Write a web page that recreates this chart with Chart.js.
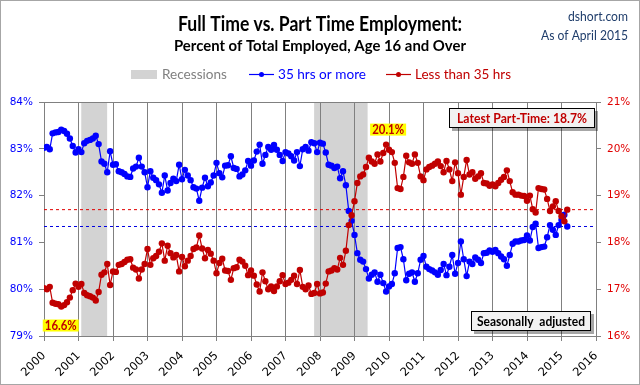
<!DOCTYPE html>
<html>
<head>
<meta charset="utf-8">
<title>Full Time vs. Part Time Employment</title>
<script src="https://cdn.jsdelivr.net/npm/chart.js@4.4.0/dist/chart.umd.min.js"></script>
<style>
    html, body { margin: 0; padding: 0; background: #fff; }
    #chartWrap { width: 640px; height: 385px; }
</style>
</head>
<body>
<div id="chartWrap"><canvas id="employmentChart" width="640" height="385"></canvas></div>
<script>
// Monthly readings, Jan 2000 - Mar 2015 (percent of total employed)
const startYear = 2000;

// 35 hrs or more (left axis)
const fullTime = [
    83.02, 83.04, 82.99, 83.33, 83.35, 83.36, 83.41, 83.38, 83.32, 83.22, 83.06, 82.92,
    82.99, 82.93, 83.12, 83.17, 83.19, 83.22, 83.28, 83.10, 82.73, 82.68, 82.50, 82.95,
    82.66, 82.67, 82.52, 82.50, 82.46, 82.41, 82.40, 82.58, 82.62, 82.81, 82.62, 82.50,
    82.18, 82.52, 82.38, 82.33, 82.24, 82.06, 82.43, 82.11, 82.27, 82.36, 82.31, 82.66,
    82.35, 82.55, 82.43, 82.33, 82.18, 82.15, 81.89, 82.17, 82.38, 82.20, 82.28, 82.43,
    82.70, 82.48, 82.39, 82.64, 82.65, 82.84, 82.59, 82.57, 82.41, 82.45, 82.54, 82.74,
    82.64, 82.75, 82.94, 83.09, 82.68, 82.87, 83.04, 82.98, 83.08, 82.98, 82.87, 82.74,
    82.93, 82.90, 82.84, 82.75, 82.93, 82.63, 82.99, 83.04, 82.96, 83.14, 83.12, 82.93,
    83.13, 83.11, 82.92, 82.66, 82.64, 82.59, 82.62, 82.37, 82.52, 82.22, 81.67, 81.46,
    81.16, 80.77, 80.63, 80.59, 80.43, 80.23, 80.31, 80.36, 80.16, 80.31, 80.13, 79.95,
    80.06, 80.11, 80.34, 80.88, 80.90, 80.64, 80.19, 80.33, 80.36, 80.16, 80.34, 80.63,
    80.71, 80.48, 80.43, 80.40, 80.36, 80.31, 80.41, 80.54, 80.30, 80.48, 80.73, 80.33,
    80.56, 81.02, 80.64, 80.28, 80.59, 80.54, 80.68, 80.63, 80.56, 80.77, 80.78, 80.83,
    80.80, 80.84, 80.77, 80.70, 80.64, 80.50, 80.73, 80.97, 81.02, 81.02, 81.04, 81.05,
    81.15, 81.04, 81.33, 81.40, 80.88, 80.90, 80.91, 81.11, 81.37, 81.27, 81.16, 81.37,
    81.48, 81.59, 81.34
];

// Less than 35 hrs (right axis)
const partTime = [
    17.02, 17.00, 17.05, 16.71, 16.69, 16.68, 16.63, 16.66, 16.72, 16.82, 16.98, 17.12,
    17.05, 17.11, 16.92, 16.87, 16.85, 16.82, 16.76, 16.94, 17.31, 17.36, 17.54, 17.09,
    17.38, 17.37, 17.52, 17.54, 17.58, 17.63, 17.64, 17.46, 17.42, 17.23, 17.42, 17.54,
    17.86, 17.52, 17.66, 17.71, 17.80, 17.98, 17.61, 17.93, 17.77, 17.68, 17.73, 17.38,
    17.69, 17.49, 17.61, 17.71, 17.86, 17.89, 18.15, 17.87, 17.66, 17.84, 17.76, 17.61,
    17.34, 17.56, 17.65, 17.40, 17.39, 17.20, 17.45, 17.47, 17.63, 17.59, 17.50, 17.30,
    17.40, 17.29, 17.10, 16.95, 17.36, 17.17, 17.00, 17.06, 16.96, 17.06, 17.17, 17.30,
    17.11, 17.14, 17.20, 17.29, 17.11, 17.41, 17.05, 17.00, 17.08, 16.90, 16.92, 17.11,
    16.91, 16.93, 17.12, 17.38, 17.40, 17.45, 17.42, 17.67, 17.52, 17.82, 18.37, 18.58,
    18.88, 19.27, 19.41, 19.45, 19.61, 19.81, 19.73, 19.68, 19.88, 19.73, 19.91, 20.09,
    19.98, 19.93, 19.70, 19.16, 19.14, 19.40, 19.85, 19.71, 19.68, 19.88, 19.70, 19.41,
    19.33, 19.56, 19.61, 19.64, 19.68, 19.73, 19.63, 19.50, 19.74, 19.56, 19.31, 19.71,
    19.48, 19.02, 19.40, 19.76, 19.45, 19.50, 19.36, 19.41, 19.48, 19.27, 19.26, 19.21,
    19.24, 19.20, 19.27, 19.34, 19.40, 19.54, 19.31, 19.07, 19.02, 19.02, 19.00, 18.99,
    18.89, 19.00, 18.71, 18.64, 19.16, 19.14, 19.13, 18.93, 18.67, 18.77, 18.88, 18.67,
    18.56, 18.45, 18.70
];

// Recession bands (fractional years)
const recessionStart = [2001.08, 2007.83];
const recessionEnd = [2001.83, 2009.38];

// Axis ticks
const yearTicks = [2000, 2001, 2002, 2003, 2004, 2005, 2006, 2007, 2008,
                   2009, 2010, 2011, 2012, 2013, 2014, 2015, 2016];
const leftTicks = [79, 80, 81, 82, 83, 84];
const rightTicks = [16, 17, 18, 19, 20, 21];

const BLUE = '#0000ff';
const RED = '#c00000';
const GRID = '#808080';
const LABEL_FONT = 'Lato, "Open Sans", sans-serif';

class EmploymentChart {
    constructor(canvasId) {
        this.canvas = document.getElementById(canvasId);
        this.chart = null;
    }

    // Turn a monthly series into {x, y} points on a year scale
    toPoints(values) {
        return values.map((v, i) => ({ x: startYear + i / 12, y: v }));
    }

    // Flat dashed line at the latest value of a series
    latestLine(values) {
        const last = values[values.length - 1];
        return [{ x: yearTicks[0], y: last }, { x: yearTicks[yearTicks.length - 1], y: last }];
    }

    text(ctx, str, x, y, font, color, align, maxWidth) {
        ctx.font = font;
        ctx.fillStyle = color;
        ctx.textAlign = align;
        ctx.textBaseline = 'middle';
        if (maxWidth) {
            ctx.fillText(str, x, y, maxWidth);
        } else {
            ctx.fillText(str, x, y);
        }
    }

    // Boxed note with a drop shadow
    noteBox(ctx, str, left, top, width, height, color, textWidth) {
        ctx.fillStyle = 'rgba(0,0,0,0.35)';
        ctx.fillRect(left + 3, top + 3, width, height);
        ctx.fillStyle = '#f2f2f2';
        ctx.fillRect(left, top, width, height);
        ctx.strokeStyle = '#000';
        ctx.lineWidth = 1;
        ctx.strokeRect(left + 0.5, top + 0.5, width - 1, height - 1);
        this.text(ctx, str, left + width / 2, top + height / 2 + 0.5,
            'bold 13px ' + LABEL_FONT, color, 'center', textWidth);
    }

    // Yellow highlight label next to a data point
    highlight(ctx, str, px, py) {
        const w = 36, h = 12;
        ctx.fillStyle = '#ffff00';
        ctx.fillRect(px - w / 2, py - h / 2, w, h);
        this.text(ctx, str, px, py + 0.5, 'bold 13px ' + LABEL_FONT, RED, 'center', 32);
    }

    decorPlugin() {
        const self = this;
        return {
            id: 'decor',
            beforeDraw(chart) {
                const { ctx, chartArea: a, scales: { x } } = chart;
                ctx.save();
                ctx.fillStyle = '#fff';
                ctx.fillRect(0, 0, chart.width, chart.height);
                // recession shading sits under the grid
                ctx.fillStyle = '#d3d3d3';
                recessionStart.forEach((s, i) => {
                    const x1 = x.getPixelForValue(s);
                    const x2 = x.getPixelForValue(recessionEnd[i]);
                    ctx.fillRect(x1, a.top, x2 - x1, a.bottom - a.top);
                });
                ctx.restore();
            },
            afterDraw(chart) {
                const { ctx, chartArea: a, scales: { x, y2 } } = chart;
                ctx.save();

                // plot frame top edge
                ctx.strokeStyle = GRID;
                ctx.lineWidth = 1;
                ctx.beginPath();
                ctx.moveTo(a.left, Math.round(a.top) + 0.5);
                ctx.lineTo(a.right, Math.round(a.top) + 0.5);
                ctx.stroke();

                // titles
                self.text(ctx, 'Full Time vs. Part Time Employment:', 320, 25,
                    'bold 20px ' + LABEL_FONT, '#000', 'center', 284);
                self.text(ctx, 'Percent of Total Employed, Age 16 and Over', 320, 46,
                    'bold 16px ' + LABEL_FONT, '#000', 'center', 292);
                self.text(ctx, 'dshort.com', 628, 16, '14px ' + LABEL_FONT, '#1f3d6b', 'right', 60);
                self.text(ctx, 'As of April 2015', 628, 35, '14px ' + LABEL_FONT, '#1f3d6b', 'right', 87);

                // legend
                ctx.fillStyle = '#d3d3d3';
                ctx.fillRect(131, 70, 26, 9);
                self.text(ctx, 'Recessions', 162, 74, '14px ' + LABEL_FONT, '#808080', 'left', 65);
                [[249, BLUE, '35 hrs or more', 88], [386, RED, 'Less than 35 hrs', 96]].forEach(([lx, c, label, w]) => {
                    ctx.strokeStyle = c;
                    ctx.lineWidth = 1.2;
                    ctx.beginPath();
                    ctx.moveTo(lx, 74.5);
                    ctx.lineTo(lx + 25, 74.5);
                    ctx.stroke();
                    ctx.fillStyle = c;
                    ctx.beginPath();
                    ctx.arc(lx + 12.5, 74.5, 2.5, 0, Math.PI * 2);
                    ctx.fill();
                    self.text(ctx, label, lx + 29, 74, '14px ' + LABEL_FONT, c, 'left', w);
                });

                // extreme-value highlights for the part-time series
                const maxIdx = partTime.indexOf(Math.max(...partTime));
                const minIdx = partTime.indexOf(Math.min(...partTime));
                const maxX = x.getPixelForValue(startYear + maxIdx / 12);
                const maxY = y2.getPixelForValue(partTime[maxIdx]);
                self.highlight(ctx, partTime[maxIdx].toFixed(1) + '%', maxX + 2, maxY - 15);
                const minX = x.getPixelForValue(startYear + minIdx / 12);
                const minY = y2.getPixelForValue(partTime[minIdx]);
                self.highlight(ctx, partTime[minIdx].toFixed(1) + '%', minX - 0.5, minY + 19);

                // note boxes
                const latest = partTime[partTime.length - 1].toFixed(1);
                self.noteBox(ctx, 'Latest Part-Time: ' + latest + '%', 449, 108, 146, 20, RED, 130);
                self.noteBox(ctx, 'Seasonally  adjusted', 471, 311, 120, 20, '#000', 108);

                // outer picture border
                ctx.strokeStyle = '#a6a6a6';
                ctx.lineWidth = 1;
                ctx.strokeRect(0.5, 0.5, chart.width - 1, chart.height - 1);
                ctx.restore();
            }
        };
    }

    init() {
        const tickFont = { family: '"DejaVu Sans", sans-serif', size: 10.5 };
        this.chart = new Chart(this.canvas, {
            type: 'line',
            data: {
                datasets: [
                    {
                        label: 'Less than 35 hrs',
                        data: this.toPoints(partTime),
                        yAxisID: 'y2',
                        borderColor: RED,
                        backgroundColor: RED,
                        borderWidth: 1.2,
                        pointRadius: 3.2,
                        pointBorderWidth: 0,
                        order: 1
                    },
                    {
                        label: '35 hrs or more',
                        data: this.toPoints(fullTime),
                        yAxisID: 'y',
                        borderColor: BLUE,
                        backgroundColor: BLUE,
                        borderWidth: 1.2,
                        pointRadius: 3.2,
                        pointBorderWidth: 0,
                        order: 2
                    },
                    {
                        label: 'latest part-time',
                        data: this.latestLine(partTime),
                        yAxisID: 'y2',
                        borderColor: '#e00000',
                        borderWidth: 1,
                        borderDash: [3, 3],
                        pointRadius: 0,
                        order: 3
                    },
                    {
                        label: 'latest full-time',
                        data: this.latestLine(fullTime),
                        yAxisID: 'y',
                        borderColor: '#0000e0',
                        borderWidth: 1,
                        borderDash: [3, 3],
                        pointRadius: 0,
                        order: 3
                    }
                ]
            },
            options: {
                responsive: false,
                animation: false,
                devicePixelRatio: 1,
                layout: { padding: { top: 102, left: 0, right: 0, bottom: 0 } },
                plugins: {
                    legend: { display: false },
                    title: { display: false },
                    tooltip: { enabled: false }
                },
                scales: {
                    x: {
                        type: 'linear',
                        min: yearTicks[0],
                        max: yearTicks[yearTicks.length - 1],
                        afterBuildTicks: s => { s.ticks = yearTicks.map(v => ({ value: v })); },
                        afterFit: s => { s.height = 49; },
                        grid: { color: GRID, tickLength: 5 },
                        border: { color: GRID },
                        ticks: {
                            autoSkip: false,
                            minRotation: 45,
                            maxRotation: 45,
                            padding: 8,
                            color: '#000',
                            font: { family: '"DejaVu Sans", sans-serif', size: 11.5 },
                            callback: v => String(v)
                        }
                    },
                    y: {
                        position: 'left',
                        min: leftTicks[0],
                        max: leftTicks[leftTicks.length - 1],
                        afterBuildTicks: s => { s.ticks = leftTicks.map(v => ({ value: v })); },
                        afterFit: s => { s.width = 44; },
                        grid: { drawOnChartArea: false, color: GRID, tickLength: 5 },
                        border: { color: GRID },
                        ticks: { color: BLUE, padding: 6, font: tickFont, callback: v => v + '%' }
                    },
                    y2: {
                        position: 'right',
                        min: rightTicks[0],
                        max: rightTicks[rightTicks.length - 1],
                        afterBuildTicks: s => { s.ticks = rightTicks.map(v => ({ value: v })); },
                        afterFit: s => { s.width = 44; },
                        grid: { drawOnChartArea: false, color: GRID, tickLength: 5 },
                        border: { color: GRID },
                        ticks: { color: '#e00000', padding: 6, font: tickFont, callback: v => v + '%' }
                    }
                }
            },
            plugins: [this.decorPlugin()]
        });
    }
}

const employmentChart = new EmploymentChart('employmentChart');
employmentChart.init();
</script>
</body>
</html>
